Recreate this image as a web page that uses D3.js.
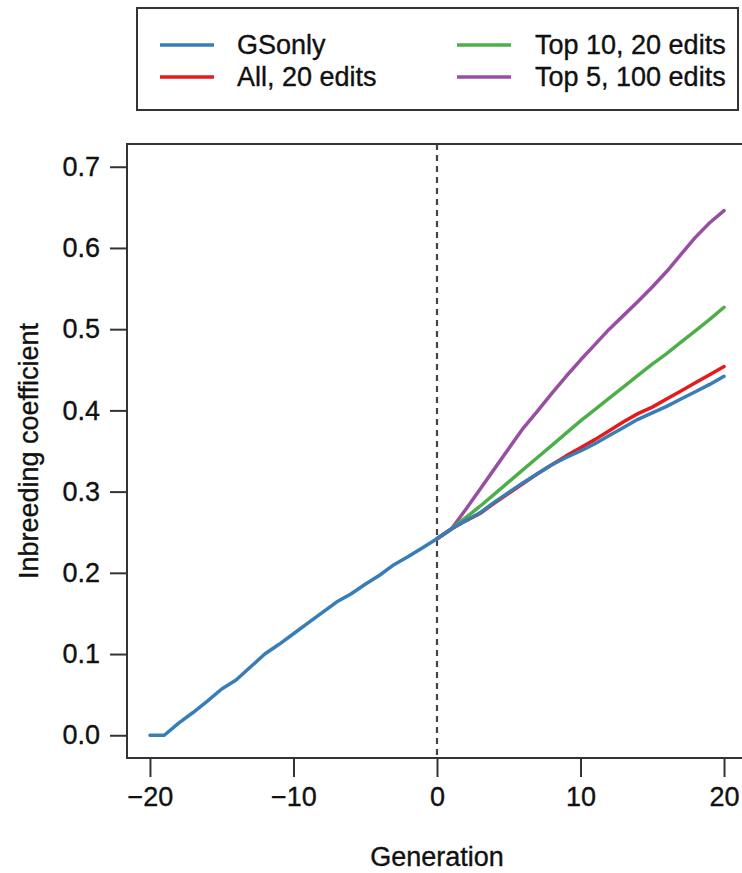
<!DOCTYPE html>
<html>
<head>
<meta charset="utf-8">
<script src="https://cdn.jsdelivr.net/npm/d3@7"></script>
<style>
  html, body { margin: 0; padding: 0; background: #fff; }
  svg { display: block; font-family: "Liberation Sans", Arial, Helvetica, sans-serif; }
</style>
</head>
<body>
<script>
// ---- data ----
const generations = [-20,-19,-18,-17,-16,-15,-14,-13,-12,-11,-10,-9,-8,-7,-6,-5,-4,-3,-2,-1,0,1,2,3,4,5,6,7,8,9,10,11,12,13,14,15,16,17,18,19,20];
const gsOnly = [0.000,0.000,0.015,0.028,0.042,0.057,0.068,0.084,0.100,0.112,0.125,0.138,0.151,0.164,0.174,0.186,0.197,0.210,0.220,0.231,0.242,
                0.254,0.264,0.274,0.287,0.299,0.311,0.322,0.333,0.342,0.350,0.359,0.369,0.379,0.389,0.397,0.405,0.414,0.423,0.432,0.442];
const editGenerations = [0,1,2,3,4,5,6,7,8,9,10,11,12,13,14,15,16,17,18,19,20];
const all20 = [0.242,0.254,0.264,0.273,0.286,0.298,0.310,0.322,0.333,0.344,0.354,0.364,0.375,0.386,0.396,0.404,0.414,0.424,0.434,0.444,0.454];
const top10x20 = [0.242,0.254,0.268,0.282,0.297,0.312,0.327,0.342,0.357,0.372,0.387,0.401,0.415,0.429,0.443,0.457,0.470,0.484,0.498,0.512,0.527];
const top5x100 = [0.242,0.254,0.278,0.303,0.328,0.353,0.378,0.399,0.421,0.442,0.462,0.481,0.500,0.517,0.534,0.552,0.571,0.592,0.613,0.631,0.646];
const xTicks = [-20,-10,0,10,20];
const yTicks = [0.0,0.1,0.2,0.3,0.4,0.5,0.6,0.7];
const seriesNames = ["GSonly","All, 20 edits","Top 10, 20 edits","Top 5, 100 edits"];
const seriesColors = ["#377EB8","#E41A1C","#4DAF4A","#984EA3"];

const series = [
  {name: seriesNames[0], color: seriesColors[0], xs: generations, ys: gsOnly},
  {name: seriesNames[1], color: seriesColors[1], xs: editGenerations, ys: all20},
  {name: seriesNames[2], color: seriesColors[2], xs: editGenerations, ys: top10x20},
  {name: seriesNames[3], color: seriesColors[3], xs: editGenerations, ys: top5x100}
];

// ---- layout ----
const W = 742, H = 873;
const box = {left: 127, right: 747, top: 144, bottom: 758};
const fs = 27;

const svg = d3.select("body").append("svg").attr("width", W).attr("height", H);

const x = d3.scaleLinear().domain([-21.6, 21.6]).range([box.left, box.right]);
const y = d3.scaleLinear().domain([-0.028, 0.728]).range([box.bottom, box.top]);

// dashed vertical at generation 0
svg.append("line")
  .attr("x1", x(0)).attr("x2", x(0))
  .attr("y1", box.top).attr("y2", box.bottom)
  .attr("stroke", "#444").attr("stroke-width", 2.2)
  .attr("stroke-dasharray", "6,5");

// lines (GSonly drawn last, on top)
const line = d3.line().x(d => x(d[0])).y(d => y(d[1]));
[3,2,1,0].forEach(i => {
  const s = series[i];
  svg.append("path")
    .datum(s.xs.map((g, k) => [g, s.ys[k]]))
    .attr("d", line)
    .attr("fill", "none")
    .attr("stroke", s.color)
    .attr("stroke-width", 3.5)
    .attr("stroke-linejoin", "round")
    .attr("stroke-linecap", "round");
});

// plot box
svg.append("rect")
  .attr("x", box.left).attr("y", box.top)
  .attr("width", box.right - box.left).attr("height", box.bottom - box.top)
  .attr("fill", "none").attr("stroke", "#333").attr("stroke-width", 2);

const textStyle = sel => sel.attr("font-size", fs).attr("fill", "#111")
  .attr("stroke", "#111").attr("stroke-width", 0.35)
  .attr("font-family", "Liberation Sans, Arial, sans-serif");

// y axis
const yAxis = d3.axisLeft(y).tickValues(yTicks).tickSize(17).tickPadding(10)
  .tickFormat(d3.format(".1f"));
const gy = svg.append("g").attr("transform", `translate(${box.left},0)`).call(yAxis);
gy.select(".domain").remove();
gy.selectAll(".tick line").attr("stroke", "#333").attr("stroke-width", 2);
gy.selectAll(".tick text").call(textStyle);

// x axis
const xAxis = d3.axisBottom(x).tickValues(xTicks).tickSize(19).tickPadding(10)
  .tickFormat(d => d < 0 ? "\u2212" + Math.abs(d) : String(d));
const gx = svg.append("g").attr("transform", `translate(0,${box.bottom})`).call(xAxis);
gx.select(".domain").remove();
gx.selectAll(".tick line").attr("stroke", "#333").attr("stroke-width", 2);
gx.selectAll(".tick text").call(textStyle);

// axis titles
svg.append("text")
  .attr("x", x(0)).attr("y", 866)
  .attr("text-anchor", "middle").call(textStyle)
  .text("Generation");
svg.append("text")
  .attr("transform", `translate(38,${(box.top + box.bottom) / 2}) rotate(-90)`)
  .attr("text-anchor", "middle").call(textStyle)
  .text("Inbreeding coefficient");

// legend
const lg = svg.append("g");
lg.append("rect")
  .attr("x", 137).attr("y", 8).attr("width", 601).attr("height", 102)
  .attr("fill", "#fff").attr("stroke", "#333").attr("stroke-width", 2);
const legendPos = [
  {lx: 160, tx: 237, y: 45},
  {lx: 160, tx: 237, y: 77},
  {lx: 457, tx: 535, y: 45},
  {lx: 457, tx: 535, y: 77}
];
series.forEach((s, i) => {
  const p = legendPos[i];
  lg.append("line")
    .attr("x1", p.lx).attr("x2", p.lx + 54)
    .attr("y1", p.y).attr("y2", p.y)
    .attr("stroke", s.color).attr("stroke-width", 3.5);
  lg.append("text")
    .attr("x", p.tx).attr("y", p.y).attr("dy", "0.35em")
    .call(textStyle)
    .text(s.name);
});
</script>
</body>
</html>
